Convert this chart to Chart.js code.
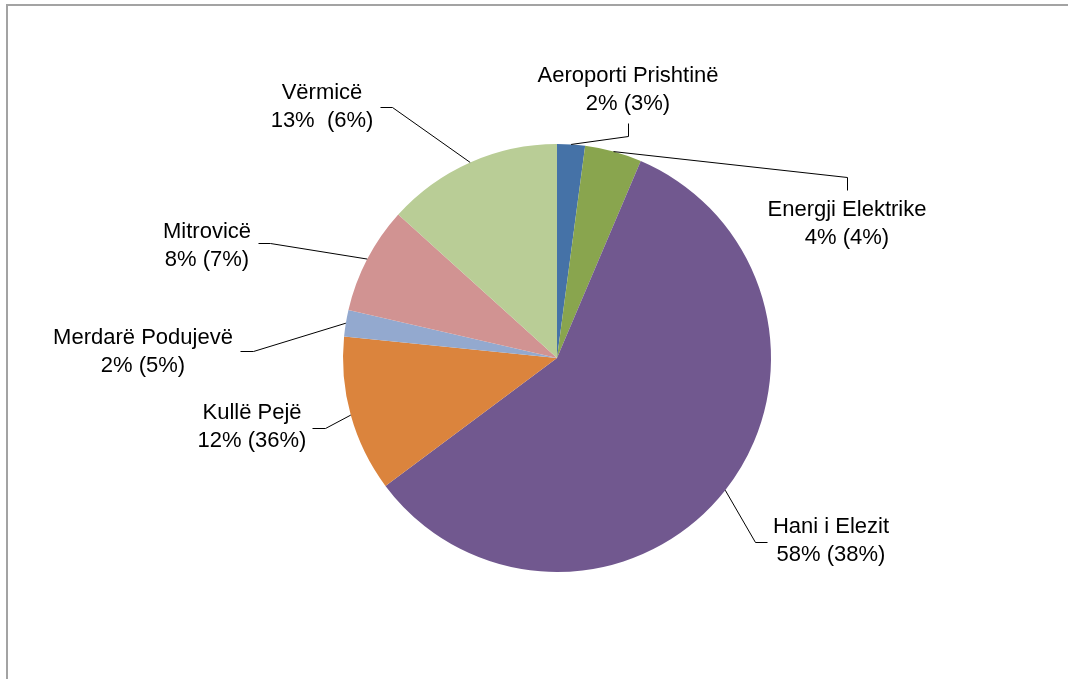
<!DOCTYPE html>
<html>
<head>
<meta charset="utf-8">
<script src="https://cdn.jsdelivr.net/npm/chart.js@4/dist/chart.umd.min.js"></script>
<style>
    html, body { margin: 0; padding: 0; background: #fff; overflow: hidden; }
    #wrap { position: relative; width: 1068px; height: 679px; }
    #frame {
        position: absolute; left: 6px; top: 4px; width: 1100px; height: 700px;
        border-top: 2px solid #a3a3a3; border-left: 2px solid #a3a3a3;
        pointer-events: none;
    }
    canvas { position: absolute; left: 0; top: 0; }
</style>
</head>
<body>
<div id="wrap">
    <canvas id="pieChart" width="1068" height="679"></canvas>
    <div id="frame"></div>
</div>
<script>
// Data
const categories = ['Aeroporti Prishtinë', 'Energji Elektrike', 'Hani i Elezit', 'Kullë Pejë', 'Merdarë Podujevë', 'Mitrovicë', 'Vërmicë'];
const shares = [2.1, 4.3, 58.4, 11.8, 2.0, 8.1, 13.3];
const shareLabels = ['2% (3%)', '4% (4%)', '58% (38%)', '12% (36%)', '2% (5%)', '8% (7%)', '13%  (6%)'];
const colors = ['#4572A7', '#89A54E', '#71588F', '#DB843D', '#93A9CF', '#D19392', '#B9CD96'];

// Label placement (center of first text line) and leader line elbows
const labelLayout = [
    { x: 628, y: 76,  path: [[628, 136], [628, 123]] },
    { x: 847, y: 210, path: [[847, 177], [847, 190]] },
    { x: 831, y: 527, path: [[755, 542], [767, 542]] },
    { x: 252, y: 413, path: [[325, 428], [312, 428]] },
    { x: 143, y: 338, path: [[253, 351], [240, 351]] },
    { x: 207, y: 232, path: [[270, 243], [258, 243]] },
    { x: 322, y: 93,  path: [[392, 107], [380, 107]] }
];

// Leader lines + labels
const labelPlugin = {
    id: 'outsideLabels',
    afterDatasetsDraw(chart) {
        const ctx = chart.ctx;
        const arcs = chart.getDatasetMeta(0).data;
        ctx.save();
        ctx.strokeStyle = '#000';
        ctx.lineWidth = 1;
        arcs.forEach((arc, i) => {
            const p = arc.getProps(['x', 'y', 'startAngle', 'endAngle', 'outerRadius'], true);
            const mid = (p.startAngle + p.endAngle) / 2;
            const ax = p.x + Math.cos(mid) * p.outerRadius;
            const ay = p.y + Math.sin(mid) * p.outerRadius;
            const lay = labelLayout[i];
            ctx.beginPath();
            ctx.moveTo(ax, ay);
            lay.path.forEach(pt => ctx.lineTo(pt[0] + 0.5, pt[1] + 0.5));
            ctx.stroke();

            ctx.fillStyle = '#000';
            ctx.font = '22px "Liberation Sans", Arial, sans-serif';
            ctx.textAlign = 'center';
            ctx.textBaseline = 'middle';
            ctx.fillText(categories[i], lay.x, lay.y);
            ctx.fillText(shareLabels[i], lay.x, lay.y + 28);
        });
        ctx.restore();
    }
};

const ctx = document.getElementById('pieChart').getContext('2d');
const pieChart = new Chart(ctx, {
    type: 'pie',
    data: {
        labels: categories,
        datasets: [{
            data: shares,
            backgroundColor: colors,
            borderWidth: 0
        }]
    },
    options: {
        responsive: false,
        devicePixelRatio: 1,
        animation: false,
        layout: {
            padding: { left: 343, right: 297, top: 144, bottom: 107 }
        },
        plugins: {
            legend: { display: false },
            tooltip: { enabled: false }
        }
    },
    plugins: [labelPlugin]
});
</script>
</body>
</html>
